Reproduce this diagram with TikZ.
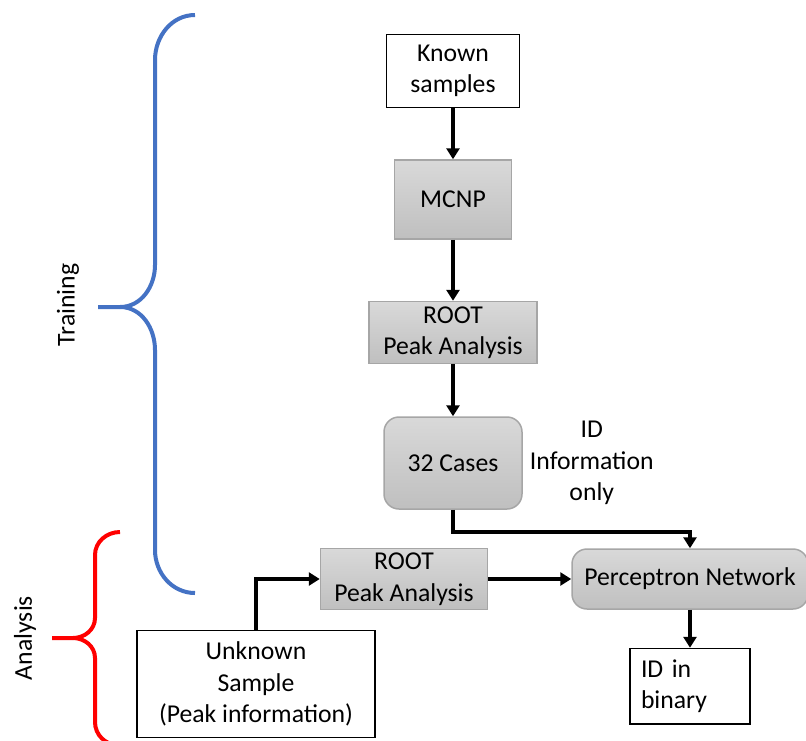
\documentclass[tikz,border=0pt]{standalone}
\usepackage{fontspec}
\setmainfont{Carlito}
\usepackage{tikz}
\usetikzlibrary{arrows.meta, positioning}

\definecolor{braceblue}{HTML}{4472C4}
\definecolor{boxedge}{HTML}{A6A6A6}

\begin{document}
\begin{tikzpicture}[x=1pt, y=-1pt,
    >={Triangle[width=13pt, length=11pt]},
    every node/.append style={font=\fontsize{25.7}{31.5}\selectfont, align=center},
    whitebox/.style={draw=black, line width=1.5pt, fill=white},
    graybox/.style={draw=boxedge, line width=1.5pt, top color=gray!30, bottom color=gray!50},
    roundbox/.style={graybox, rounded corners=15pt},
    arrow/.style={->, line width=4pt},
    brace/.style={line width=4pt, line cap=butt},
]
\clip (0,0) rectangle (806,740);
% training column
\node[whitebox, minimum width=133pt, minimum height=73pt] (known) at (453,71) {Known\\samples};
\node[graybox, minimum width=117pt, minimum height=79pt, below=51pt of known] (mcnp) {MCNP};
\node[graybox, minimum width=168pt, minimum height=62pt, below=61pt of mcnp] (rootA) {ROOT\\Peak Analysis};
\node[roundbox, minimum width=138pt, minimum height=92pt, below=52pt of rootA] (cases) {32 Cases};
\node[inner sep=0pt, right=7pt of cases] (idinfo) {ID\\Information\\only};
\draw[arrow] (known) -- (mcnp);
\draw[arrow] (mcnp) -- (rootA);
\draw[arrow] (rootA) -- (cases);
% analysis row
\node[roundbox, minimum width=236pt, minimum height=60pt] (percep) at (690,579) {Perceptron Network};
\node[graybox, minimum width=167pt, minimum height=61pt, left=83pt of percep] (rootB) {ROOT\\Peak Analysis};
\node[whitebox, minimum width=238pt, minimum height=107pt] (unknown) at (256,684) {Unknown\\Sample\\(Peak information)};
\node[whitebox, minimum width=120pt, minimum height=72pt, text width=98pt, align=left, inner sep=11pt, below=38pt of percep] (idbin) {ID in\\binary};
\draw[arrow] (cases.south) -- ++(0,22) -| (percep.north);
\draw[arrow] (rootB) -- (percep);
\draw[arrow] (unknown.north) |- (rootB.west);
\draw[arrow] (percep) -- (idbin);
% braces
\draw[brace, braceblue] (195,15) to[out=180, in=90] (155,60) -- (155,265) to[out=-90, in=0] (120,307) -- (98,307);
\draw[brace, braceblue] (120,307) to[out=0, in=90] (155,350) -- (155,550) to[out=-90, in=180] (195,593);
\draw[brace, red] (120,532) to[out=180, in=90] (95,555) -- (95,618) to[out=-90, in=0] (73,638) -- (52,638);
\draw[brace, red] (73,638) to[out=0, in=90] (95,658) -- (95,722) to[out=-90, in=180] (118,745);
\node[rotate=90] (training) at (68,305) {Training};
\node[rotate=90] (analysis) at (25,638) {Analysis};
\end{tikzpicture}
\end{document}
